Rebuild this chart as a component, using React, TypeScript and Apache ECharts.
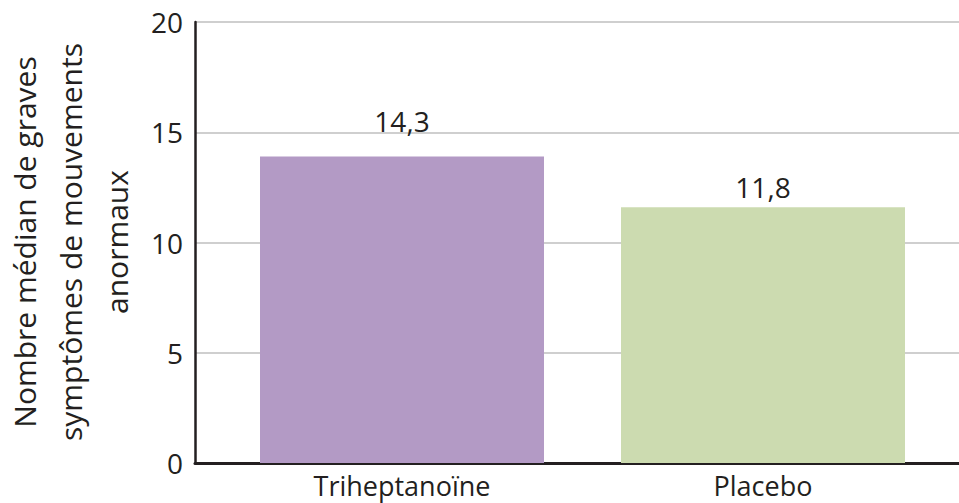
import React, { useEffect, useRef } from "react";
import * as echarts from "echarts";

const categories = ["Triheptanoïne", "Placebo"];
// bar heights as drawn in the reference
const barHeights = [13.9, 11.6];
// value labels printed above the bars
const valueLabels = ["14,3", "11,8"];
const barColors = ["#b39ac5", "#ccdbb0"];
const labelDistances = [22, 6];
const yTicks = { min: 0, max: 20, interval: 5 };
const yTitle = "Nombre médian de graves\nsymptômes de mouvements\nanormaux";

const FONT = "Open Sans";
const TEXT = "#231f20";

export default function App() {
  const ref = useRef<HTMLDivElement>(null);
  useEffect(() => {
    if (!ref.current) return;
    const chart = echarts.init(ref.current, null, { renderer: "svg" });
    chart.setOption({
      animation: false,
      backgroundColor: "#ffffff",
      grid: [
        { left: 195, right: 0, top: 22, bottom: 40 },
        { left: 221.5, right: 15.5, top: 22, bottom: 40 },
      ],
      xAxis: [
        {
          gridIndex: 0,
          type: "category",
          data: [""],
          axisLine: { show: true, lineStyle: { color: TEXT, width: 3 } },
          axisTick: { show: false },
          axisLabel: { show: false },
          splitLine: { show: false },
        },
        {
          gridIndex: 1,
          type: "category",
          data: categories,
          axisLine: { show: false },
          axisTick: { show: false },
          axisLabel: {
            fontFamily: FONT,
            fontSize: 27,
            color: TEXT,
            margin: 9,
          },
        },
      ],
      yAxis: [
        {
          gridIndex: 0,
          type: "value",
          min: yTicks.min,
          max: yTicks.max,
          interval: yTicks.interval,
          axisLine: { show: true, lineStyle: { color: TEXT, width: 2.5 } },
          axisTick: { show: false },
          axisLabel: {
            fontFamily: FONT,
            fontSize: 28,
            color: TEXT,
            margin: 12,
          },
          splitLine: { show: true, lineStyle: { color: "#bfbfbf", width: 1.5 } },
        },
        {
          gridIndex: 1,
          type: "value",
          min: yTicks.min,
          max: yTicks.max,
          interval: yTicks.interval,
          show: false,
          splitLine: { show: false },
        },
      ],
      series: [
        {
          type: "bar",
          xAxisIndex: 1,
          yAxisIndex: 1,
          barWidth: 284,
          data: barHeights.map((v, i) => ({
            value: v,
            itemStyle: { color: barColors[i] },
            label: {
              show: true,
              position: "top",
              distance: labelDistances[i],
              formatter: valueLabels[i],
              fontFamily: FONT,
              fontSize: 28,
              color: TEXT,
            },
          })),
        },
      ],
      graphic: [
        {
          type: "text",
          x: 70,
          y: 242,
          rotation: Math.PI / 2,
          style: {
            text: yTitle,
            fontFamily: FONT,
            fontSize: 30,
            lineHeight: 46,
            fill: TEXT,
            textAlign: "center",
            textVerticalAlign: "middle",
          },
        },
      ],
    });
    return () => chart.dispose();
  }, []);
  return (
    <div
      ref={ref}
      style={{ position: "fixed", left: 0, top: 0, width: 959, height: 503 }}
    />
  );
}
